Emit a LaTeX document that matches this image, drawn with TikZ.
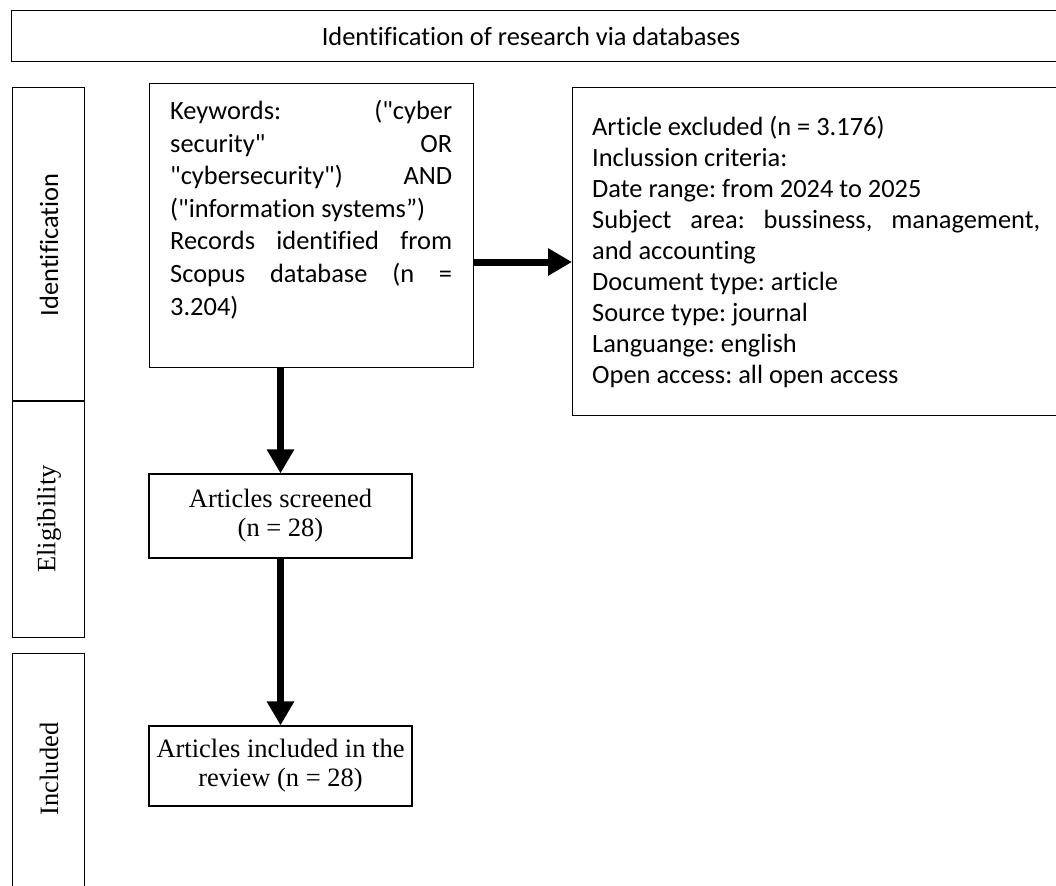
\documentclass[tikz,border=0pt]{standalone}
\usepackage{fontspec}
\newfontfamily\calibrifont[Ligatures=NoCommon]{Carlito}
\newfontfamily\timesfont{Liberation Serif}
\usetikzlibrary{arrows.meta}
\newcommand\jl[2]{\makebox[#1][s]{#2}}
\frenchspacing
\begin{document}
\begin{tikzpicture}[x=1pt,y=-1pt,
  box/.style={draw, line width=1.2pt, inner sep=0pt},
  arr/.style={line width=7pt, -{Triangle[length=24pt,width=26pt]}},
  cal/.style={font=\calibrifont\fontsize{26.4}{32.6}\selectfont},
  calr/.style={font=\calibrifont\fontsize{26.4}{31.1}\selectfont},
  tms/.style={font=\timesfont\fontsize{26.5}{29}\selectfont}]
\useasboundingbox (0,0) rectangle (1056,885);
\clip (0,0) rectangle (1056,885);
% title
\node[box, minimum width=1049, minimum height=51, anchor=north west] (titlebox) at (11,10) {};
\node[cal] (titletext) at (531,36) {Identification of research via databases};
% left column
\node[box, minimum width=72, minimum height=313, anchor=north west] (idb) at (12,87) {};
\node[cal, rotate=90] (idt) at (49,245) {Identification};
\node[box, minimum width=72, minimum height=236, anchor=north west] (elb) at (12,401) {};
\node[tms, rotate=90] (elt) at (49,519) {Eligibility};
\node[box, minimum width=72, minimum height=250, anchor=north west] (inb) at (12,653) {};
\node[tms, rotate=90] (int) at (49,769) {Included};
% keyword box
\node[box, minimum width=324, minimum height=284, anchor=north west] (kw) at (149,83) {};
\node[cal, anchor=north west, inner sep=0pt, align=left] (kwt) at (170,100) {%
\jl{282pt}{Keywords: ("cyber}\\
\jl{282pt}{security" OR}\\
\jl{282pt}{"cybersecurity") AND}\\
("information systems”)\\
\jl{282pt}{Records identified from}\\
\jl{282pt}{Scopus database (n =}\\
3.204)};
% excluded box
\node[box, minimum width=488, minimum height=328, anchor=north west] (excl) at (572,87) {};
\node[calr, anchor=north west, inner sep=0pt, align=left] (exclt) at (592,115.5) {%
Article excluded (n = 3.176)\\
Inclussion criteria:\\
Date range: from 2024 to 2025\\
\jl{448pt}{Subject area: bussiness, management,}\\
and accounting\\
Document type: article\\
Source type: journal\\
Languange: english\\
Open access: all open access};
% screened and included
\node[box, tms, minimum width=263, minimum height=84, align=center] (scr) at (280.5,516) {Articles screened\\(n = 28)};
\node[box, tms, minimum width=263, minimum height=80, align=center] (inc) at (280.5,766) {Articles included in the\\review (n = 28)};
% arrows
\draw[arr] (kw.south -| scr.north) -- (scr.north);
\draw[arr] (scr.south) -- (inc.north);
\coordinate (ha) at ([yshift=-179pt]kw.north east);
\draw[arr] (ha) -- (ha -| excl.west);
\end{tikzpicture}
\end{document}
